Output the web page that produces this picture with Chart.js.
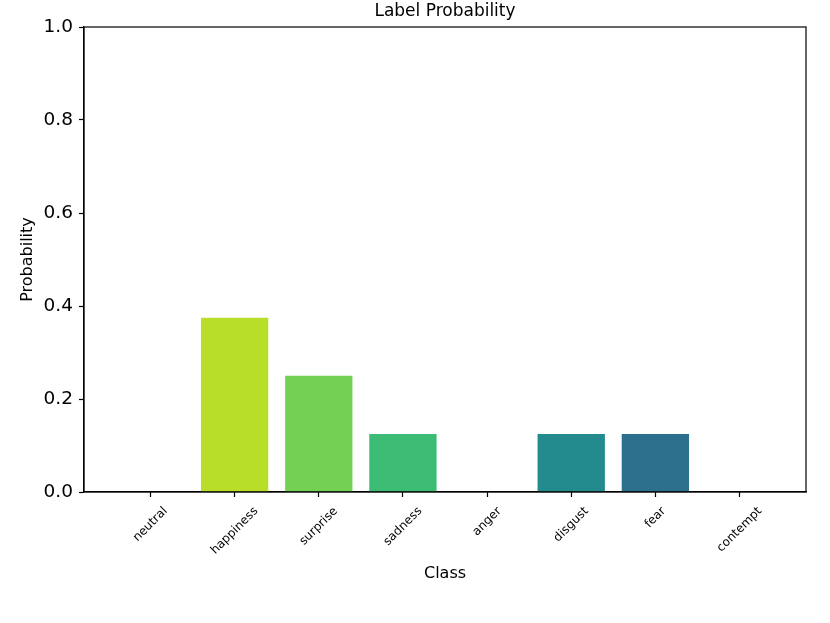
<!DOCTYPE html>
<html>
<head>
<meta charset="utf-8">
<script src="https://cdn.jsdelivr.net/npm/chart.js@4/dist/chart.umd.min.js"></script>
<style>
  html, body { margin: 0; padding: 0; background: #fff; }
  canvas { display: block; }
</style>
</head>
<body>
<canvas id="c" width="830" height="623"></canvas>
<script>
const categories = ['neutral', 'happiness', 'surprise', 'sadness', 'anger', 'disgust', 'fear', 'contempt'];
const probabilities = [0, 0.375, 0.25, 0.125, 0, 0.125, 0.125, 0];
const barColors = ['#fde725', '#b8de29', '#73d055', '#3cbb75', '#20a386', '#238a8d', '#2d708e', '#3f4788'];
const yTicks = [0, 0.2, 0.4, 0.6, 0.8, 1.0];

const FONT = "'DejaVu Sans', sans-serif";

const frame = {
  id: 'frame',
  afterDatasetsDraw(chart) {
    const {ctx, chartArea: a} = chart;
    ctx.save();
    ctx.strokeStyle = '#000';
    ctx.lineWidth = 1.2;
    ctx.strokeRect(a.left, a.top, a.right - a.left, a.bottom - a.top);
    ctx.restore();
  },
  afterDraw(chart) {
    const {ctx, chartArea: a} = chart;
    const xs = chart.scales.x;
    const fs = 12;
    ctx.save();
    ctx.font = fs + 'px ' + FONT;
    ctx.fillStyle = '#000';
    ctx.textAlign = 'center';
    ctx.textBaseline = 'middle';
    categories.forEach((lab, i) => {
      const x = xs.getPixelForValue(i);
      const w = ctx.measureText(lab).width;
      const side = (w + fs) / Math.SQRT2;
      const cy = a.bottom + 13 + side / 2;
      ctx.save();
      ctx.translate(x, cy);
      ctx.rotate(-Math.PI / 4);
      ctx.fillText(lab, 0, 0);
      ctx.restore();
    });
    ctx.restore();
  }
};

new Chart(document.getElementById('c'), {
  type: 'bar',
  data: {
    datasets: [{
      data: probabilities.map((v, i) => ({x: i, y: v})),
      backgroundColor: barColors,
      borderWidth: 0,
      barPercentage: 0.8,
      categoryPercentage: 1.0
    }]
  },
  options: {
    responsive: false,
    animation: false,
    layout: { padding: { left: 14, right: 24, top: 1, bottom: 36 } },
    plugins: {
      legend: { display: false },
      tooltip: { enabled: false },
      title: {
        display: true,
        text: 'Label Probability',
        fullSize: false,
        color: '#000',
        font: { family: FONT, size: 17, weight: 'normal' },
        padding: { top: 0, bottom: 5.6 }
      }
    },
    scales: {
      x: {
        type: 'linear',
        min: -0.79,
        max: 7.79,
        offset: false,
        afterBuildTicks(scale) { scale.ticks = categories.map((c, i) => ({value: i})); },
        afterFit(scale) { scale.height = 95; },
        ticks: { display: false },
        grid: { display: true, drawOnChartArea: false, drawTicks: true, tickLength: 5, tickWidth: 1.2, color: '#000', offset: false },
        border: { display: true, color: '#000', width: 1.2 },
        title: { display: true, text: 'Class', color: '#000', font: { family: FONT, size: 16 }, padding: { top: 4, bottom: 4 } }
      },
      y: {
        min: 0,
        max: 1,
        afterBuildTicks(scale) { scale.ticks = yTicks.map(v => ({value: v})); },
        afterFit(scale) { scale.width = 70; },
        ticks: {
          color: '#000',
          font: { family: FONT, size: 18.5 },
          padding: 6,
          callback: v => Number(v).toFixed(1)
        },
        grid: { display: true, drawOnChartArea: false, drawTicks: true, tickLength: 5, tickWidth: 1.2, color: '#000' },
        border: { display: true, color: '#000', width: 1.2 },
        title: { display: true, text: 'Probability', color: '#000', font: { family: FONT, size: 16 }, padding: { top: 4, bottom: 4 } }
      }
    }
  },
  plugins: [frame]
});
</script>
</body>
</html>
